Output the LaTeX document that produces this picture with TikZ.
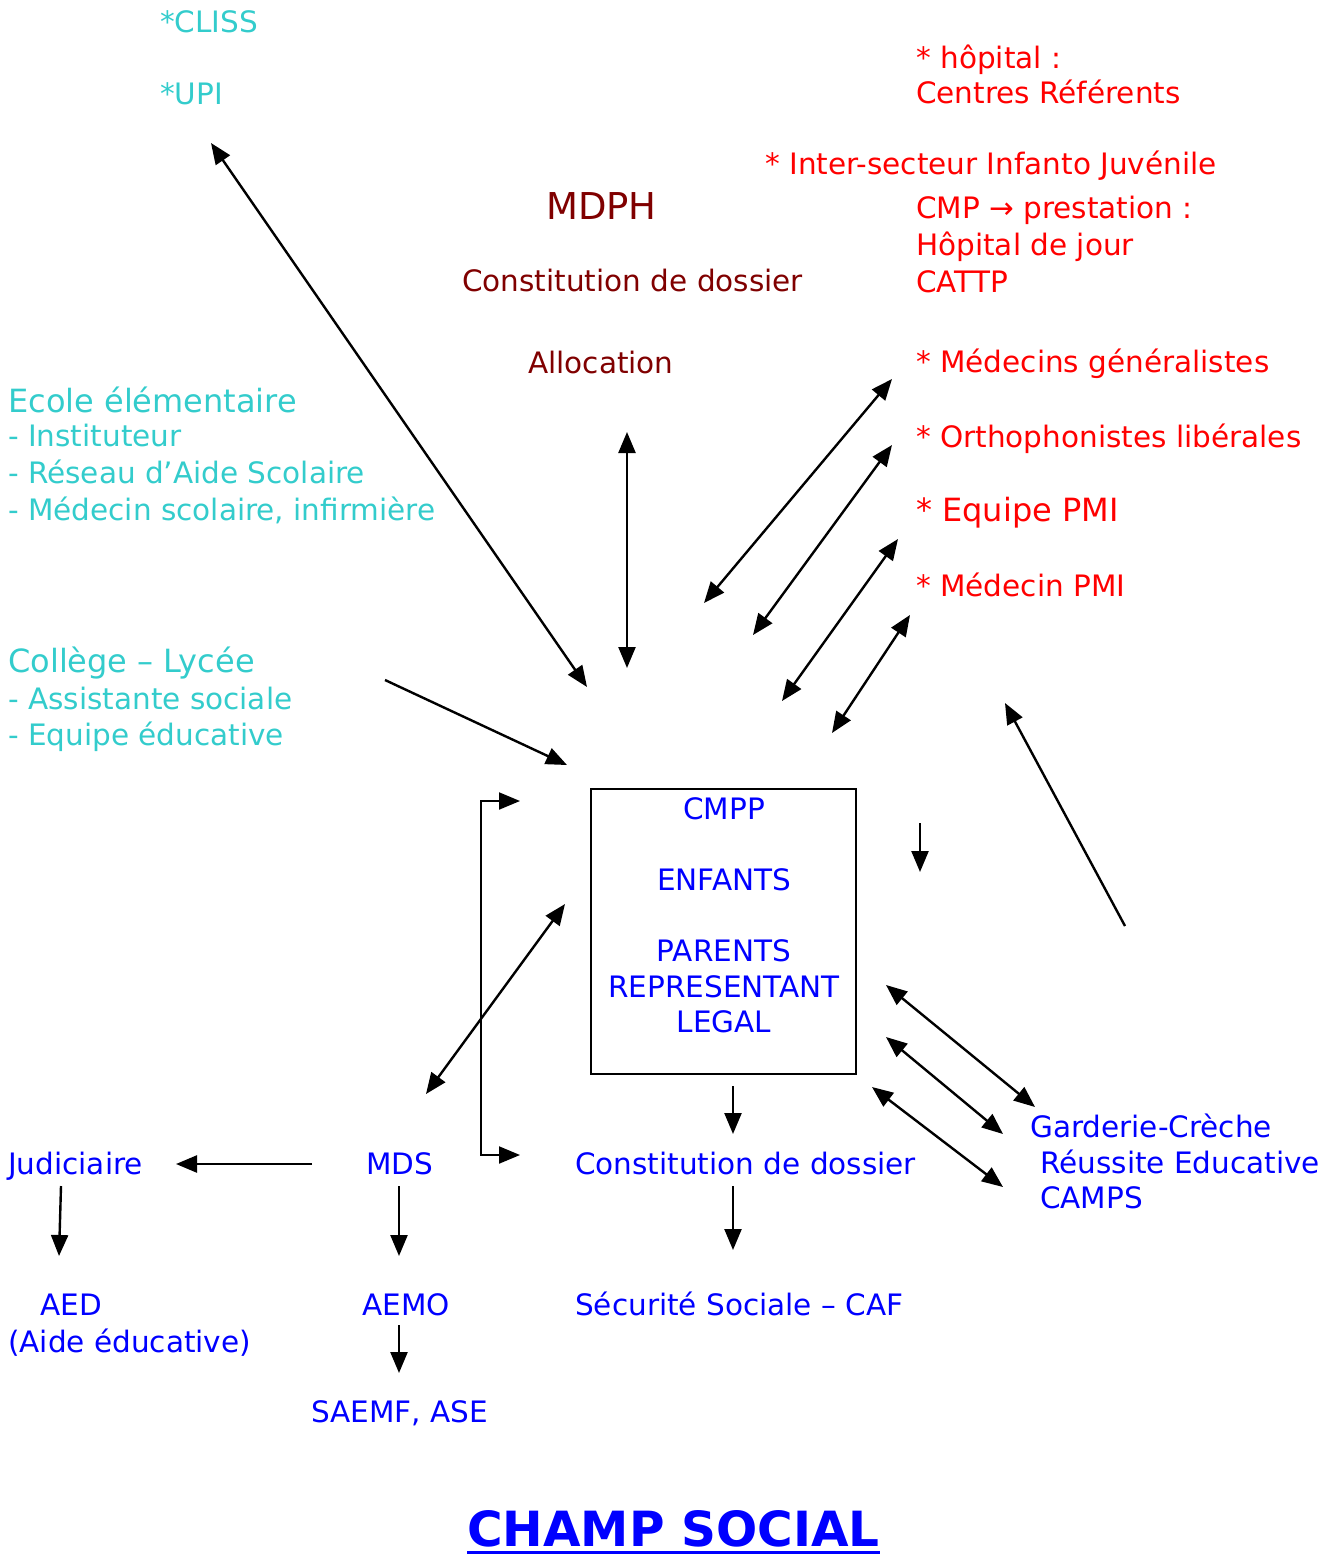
\documentclass[tikz,border=0pt]{standalone}
\usepackage{fontspec}
\setmainfont{DejaVu Sans}
\usetikzlibrary{arrows.meta}
\definecolor{tq}{HTML}{33CCCC}
\definecolor{rd}{HTML}{FF0000}
\definecolor{dr}{HTML}{800000}
\definecolor{bl}{HTML}{0000FF}
\tikzset{
  txt/.style={anchor=base west, inner sep=0pt, font=\fontsize{29.5}{35}\selectfont},
  ctxt/.style={anchor=base, inner sep=0pt, font=\fontsize{29.5}{35}\selectfont, text=bl},
  big/.style={txt, font=\fontsize{32}{38}\selectfont},
  cy/.style={txt, text=tq},
  re/.style={txt, text=rd},
  dk/.style={txt, text=dr},
  bu/.style={txt, text=bl},
  arr/.style={line width=2.4pt, -{Triangle[length=21pt,width=17pt]}},
  darr/.style={line width=2.4pt, {Triangle[length=21pt,width=17pt]}-{Triangle[length=21pt,width=17pt]}},
  boxstyle/.style={draw, line width=2pt, inner sep=0pt, minimum width=265pt, minimum height=285pt}
}
\begin{document}
\begin{tikzpicture}[x=1pt,y=-1pt]
\useasboundingbox (0,0) rectangle (1329,1555);

% ---- cyan (school) ----
\node[cy] (cliss) at (160,33) {*CLISS};
\node[cy] (upi) at (160,104) {*UPI};
\node[cy, big, text=tq] (ecole) at (8,412) {Ecole élémentaire};
\node[cy] (inst) at (8,446) {- Instituteur};
\node[cy] (reseau) at (8,483) {- Réseau d’Aide Scolaire};
\node[cy] (medsco) at (8,520) {- Médecin scolaire, infirmière};
\node[cy, big, text=tq] (college) at (8,672) {Collège – Lycée};
\node[cy] (assist) at (8,709) {-\ Assistante sociale};
\node[cy] (equiped) at (8,745) {- Equipe éducative};

% ---- dark red (MDPH) ----
\node[dk, font=\fontsize{37}{44}\selectfont] (mdph) at (546,219) {MDPH};
\node[dk] (constmdph) at (462,291) {Constitution de dossier};
\node[dk] (alloc) at (528,373) {Allocation};

% ---- red (health) ----
\node[re] (hop) at (916,68) {* hôpital :};
\node[re] (centres) at (916,103) {Centres Référents};
\node[re] (inter) at (765,174) {* Inter-secteur Infanto Juvénile};
\node[re] (cmp) at (916,218) {CMP → prestation :};
\node[re] (hdj) at (916,255) {Hôpital de jour};
\node[re] (cattp) at (916,292) {CATTP};
\node[re] (medgen) at (916,372) {* Médecins généralistes};
\node[re] (ortho) at (916,447) {* Orthophonistes libérales};
\node[re, font=\fontsize{32}{38}\selectfont] (eqpmi) at (916,521) {*\ Equipe PMI};
\node[re] (medpmi) at (916,596) {* Médecin PMI};

% ---- central box ----
\node[boxstyle] (box) at (723.5,931.5) {};
\node[ctxt] (cmpp) at (724,819) {CMPP};
\node[ctxt] (enf) at (724,890) {ENFANTS};
\node[ctxt] (par) at (724,961) {PARENTS};
\node[ctxt] (rep) at (724,997) {REPRESENTANT};
\node[ctxt] (legal) at (724,1032) {LEGAL};

% ---- blue (social) ----
\node[bu] (garderie) at (1030,1137) {Garderie-Crèche};
\node[bu] (reussite) at (1040,1173) {Réussite Educative};
\node[bu] (camps) at (1040,1208) {CAMPS};
\node[bu] (judic) at (8,1174) {Judiciaire};
\node[bu] (mds) at (366,1174) {MDS};
\node[bu] (constbl) at (575,1174) {Constitution de dossier};
\node[bu] (aed) at (40,1315) {AED};
\node[bu] (aide) at (8,1352) {(Aide éducative)};
\node[bu] (aemo) at (362,1315) {AEMO};
\node[bu] (saemf) at (311,1422) {SAEMF, ASE};
\node[bu] (secu) at (575,1315) {Sécurité Sociale – CAF};

% ---- title ----
\node[anchor=base west, inner sep=0pt, text=bl, font=\fontsize{48.5}{56}\selectfont\bfseries] (title) at (467,1546) {CHAMP SOCIAL};
\draw[bl, line width=3pt] ([yshift=-6pt]title.base west) -- ([yshift=-6pt]title.base east);

% ---- arrow end points ----
\coordinate (c1a) at (587,687);  \coordinate (c1b) at (211,143);
\coordinate (c2a) at (627,432);  \coordinate (c2b) at (627,668);
\coordinate (c3a) at (704,603);  \coordinate (c3b) at (892,379);
\coordinate (c4a) at (753,635);  \coordinate (c4b) at (892,445);
\coordinate (c5a) at (782,701);  \coordinate (c5b) at (898,539);
\coordinate (c6a) at (832,733);  \coordinate (c6b) at (910,615);
\coordinate (c7a) at (1125,926); \coordinate (c7b) at (1005,703);
\coordinate (c8a) at (920,823);  \coordinate (c8b) at (920,872);
\coordinate (c9a) at (385,680);  \coordinate (c9b) at (567,765);
\coordinate (elT) at (520,801);  \coordinate (elB) at (520,1155);
\coordinate (c11a) at (426,1094); \coordinate (c11b) at (565,904);
\coordinate (g1a) at (886,985);  \coordinate (g1b) at (1035,1107);
\coordinate (g2a) at (886,1037); \coordinate (g2b) at (1003,1134);
\coordinate (g3a) at (872,1087); \coordinate (g3b) at (1003,1187);
\coordinate (b1a) at (733,1086); \coordinate (b1b) at (733,1134);
\coordinate (b2a) at (733,1186); \coordinate (b2b) at (733,1250);
\coordinate (j1a) at (312,1164); \coordinate (j1b) at (176,1164);
\coordinate (j2a) at (61,1186);  \coordinate (j2b) at (59,1256);
\coordinate (m1a) at (399,1186); \coordinate (m1b) at (399,1256);
\coordinate (m2a) at (399,1325); \coordinate (m2b) at (399,1373);

% ---- arrows ----
\draw[darr] (c1a) -- (c1b);
\draw[darr] (c2a) -- (c2b);
\draw[darr] (c3a) -- (c3b);
\draw[darr] (c4a) -- (c4b);
\draw[darr] (c5a) -- (c5b);
\draw[darr] (c6a) -- (c6b);
\draw[arr] (c7a) -- (c7b);
\draw[arr] (c8a) -- (c8b);
\draw[arr] (c9a) -- (c9b);
\draw[darr, line width=2pt] (elT) -- ++(-39,0) |- (elB);
\draw[darr] (c11a) -- (c11b);
\draw[darr] (g1a) -- (g1b);
\draw[darr] (g2a) -- (g2b);
\draw[darr] (g3a) -- (g3b);
\draw[arr] (b1a) -- (b1b);
\draw[arr] (b2a) -- (b2b);
\draw[arr] (j1a) -- (j1b);
\draw[arr] (j2a) -- (j2b);
\draw[arr] (m1a) -- (m1b);
\draw[arr] (m2a) -- (m2b);
\end{tikzpicture}
\end{document}
